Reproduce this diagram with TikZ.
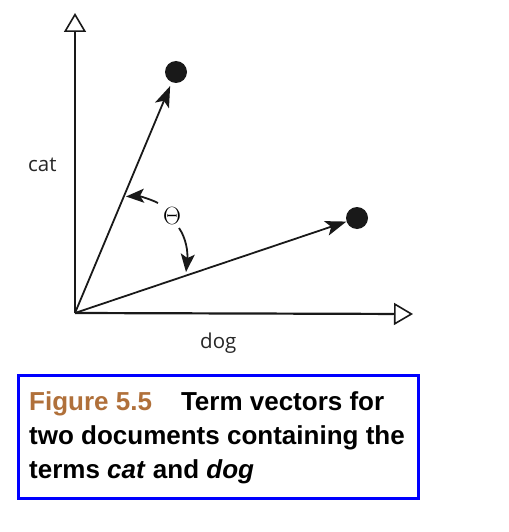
\documentclass[tikz,border=0pt]{standalone}
\usepackage{fontspec}
\newfontfamily\capfont{Liberation Sans}
\newfontfamily\labfont{Open Sans}
\usetikzlibrary{arrows.meta}
\definecolor{capbrown}{HTML}{B0703A}
\definecolor{capblue}{HTML}{0000FF}
\tikzset{
  axis/.style={line width=2.2pt, draw=black!90,
    -{Triangle[open, length=19pt, width=22pt, line width=1.6pt, fill=white]}},
  vec/.style={line width=1.8pt, draw=black!90,
    -{Stealth[length=21pt, width=15pt, inset=5pt]}},
  curvarr/.style={line width=1.8pt, draw=black!90,
    -{Stealth[length=18pt, width=14pt, inset=4pt]}},
  dot/.style={circle, fill=black!90, minimum size=22pt, inner sep=0pt},
  lab/.style={font=\labfont\fontsize{20.5pt}{24pt}\selectfont, text=black!85, anchor=base west, inner sep=0pt},
  capline/.style={font=\capfont\bfseries\fontsize{26pt}{30pt}\selectfont, anchor=base west, inner sep=0pt}
}
\begin{document}
\begin{tikzpicture}[x=1pt, y=-1pt]
\useasboundingbox (0,0) rectangle (508,532);
% axes
\coordinate (O) at (75,313);
\coordinate (ytop) at (75,13);
\coordinate (xend) at (413,314);
\draw[axis] (O) -- (ytop);
\draw[axis] (O) -- (xend);
% dots
\node[dot] (d1) at (176,72) {};
\node[dot] (d2) at (357,218) {};
% vectors
\draw[vec, shorten >=4pt] (O) -- (d1);
\draw[vec] (O) -- (d2);
% theta
\node[inner sep=0pt, font=\fontsize{23pt}{25pt}\selectfont] (th) at (172,216) {$\Theta$};
\coordinate (u0) at (158,203);
\coordinate (u1) at (126,196.5);
\coordinate (l0) at (179,228);
\coordinate (l1) at (186,272);
\draw[curvarr] (u0) .. controls (148,198) and (138,196) .. (u1);
\draw[curvarr] (l0) .. controls (186,238) and (188,252) .. (l1);
% labels
\node[lab] (cat) at (28,171) {cat};
\node[lab] (dog) at (200,348) {dog};
% caption
\node[draw=capblue, line width=3pt, minimum width=400pt, minimum height=123pt, anchor=north west, inner sep=0pt] (cap) at (17,374) {};
\node[capline] (c1) at (29,410) {\textcolor{capbrown}{Figure 5.5}\hspace{29pt}Term vectors for};
\node[capline] (c2) at (29,444) {two documents containing the};
\node[capline] (c3) at (29,478) {terms \textit{cat} and \textit{dog}};
\end{tikzpicture}
\end{document}
